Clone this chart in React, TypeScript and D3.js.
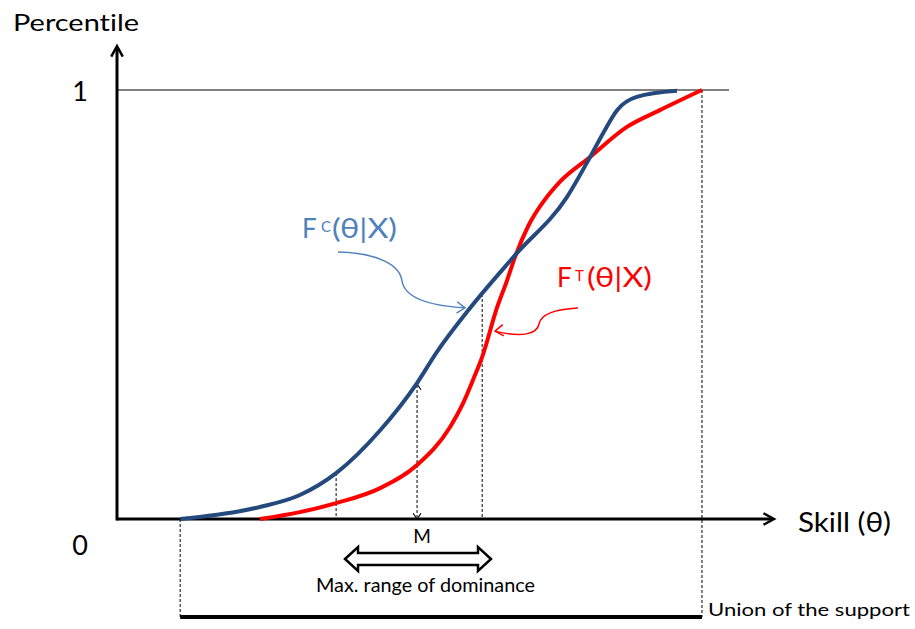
import React from "react";
import * as d3 from "d3";

// skill (0-100 along the axis) and percentile (0-1)
const controlSkill = [9.6, 21.7, 27.8, 33.3, 40.0, 45.6, 48.6, 53.2, 60.5, 68.4, 71.9, 73.9, 76.0, 79.0, 85.1];
const controlPct = [0, 0.028, 0.056, 0.107, 0.207, 0.317, 0.389, 0.483, 0.615, 0.751, 0.844, 0.9, 0.953, 0.984, 0.998];

const treatSkill = [21.7, 27.8, 33.3, 40.0, 45.6, 50.6, 52.6, 54.1, 55.5, 57.8, 59.3, 60.5, 62.5, 65.0, 67.3, 71.9, 77.5, 82.5, 88.9];
const treatPct = [0, 0.016, 0.037, 0.072, 0.126, 0.214, 0.27, 0.324, 0.378, 0.495, 0.557, 0.611, 0.683, 0.744, 0.786, 0.844, 0.914, 0.953, 1];

const yTicks = ["0", "1"];
const supportLo = 9.6;
const supportHi = 88.9;
const lowCut = 33.3; // left end of dominance range
const highCut = 55.5; // right end
const mSkill = 45.6;

const W = 915;
const H = 629;
const FONT = "Lato, 'Open Sans', sans-serif";

const App = () => {
  const x = d3.scaleLinear().domain([0, 100]).range([117, 775]);
  const y = d3.scaleLinear().domain([0, 1]).range([519, 90]);

  const line = d3
    .line<[number, number]>()
    .x((d) => x(d[0]))
    .y((d) => y(d[1]))
    .curve(d3.curveMonotoneX);

  const blue = controlSkill.map((s, i) => [s, controlPct[i]] as [number, number]);
  const red = treatSkill.map((s, i) => [s, treatPct[i]] as [number, number]);

  const interp = (xs: number[], ys: number[], v: number) => {
    const i = Math.max(1, d3.bisectLeft(xs, v));
    const t = (v - xs[i - 1]) / (xs[i] - xs[i - 1]);
    return ys[i - 1] + t * (ys[i] - ys[i - 1]);
  };

  const x0 = x(0);
  const yBase = y(0);
  const unionY = 617;

  const mX = x(mSkill);
  const mTop = y(interp(controlSkill, controlPct, mSkill));

  const blueTip: [number, number] = [x(53.2) - 2, y(interp(controlSkill, controlPct, 53.2)) - 4];
  const redTip: [number, number] = [x(57.0) + 3, y(interp(treatSkill, treatPct, 57.0)) + 7];

  const chevron = (tx: number, ty: number, ang: number, len = 9, spread = 0.55) => {
    const a1 = ang + Math.PI - spread;
    const a2 = ang + Math.PI + spread;
    return `M${tx + len * Math.cos(a1)},${ty + len * Math.sin(a1)}L${tx},${ty}L${tx + len * Math.cos(a2)},${ty + len * Math.sin(a2)}`;
  };

  // block double arrow for the dominance range
  const bx0 = 345, bx1 = 491, bcy = 559, headW = 13, shaft = 6, head = 12;
  const block = `M${bx0},${bcy}L${bx0 + headW},${bcy - head}L${bx0 + headW},${bcy - shaft}L${bx1 - headW},${bcy - shaft}L${bx1 - headW},${bcy - head}L${bx1},${bcy}L${bx1 - headW},${bcy + head}L${bx1 - headW},${bcy + shaft}L${bx0 + headW},${bcy + shaft}L${bx0 + headW},${bcy + head}Z`;

  const fit = { lengthAdjust: "spacingAndGlyphs" as const };

  return (
    <svg
      width={W}
      height={H}
      style={{ position: "absolute", left: 0, top: 0, background: "#fff", fontVariantLigatures: "none" }}
      fontFamily={FONT}
    >
      {/* top reference line */}
      <line x1={x0} x2={729} y1={y(1)} y2={y(1)} stroke="#808080" strokeWidth={2} />

      {/* dashed guides */}
      <g stroke="#000" strokeWidth={1} strokeDasharray="3,2" fill="none">
        <line x1={x(supportLo)} x2={x(supportLo)} y1={yBase} y2={unionY} />
        <line x1={x(supportHi)} x2={x(supportHi)} y1={y(1)} y2={unionY} />
        <line x1={x(lowCut)} x2={x(lowCut)} y1={y(interp(controlSkill, controlPct, lowCut))} y2={yBase} />
        <line x1={x(highCut)} x2={x(highCut)} y1={y(interp(controlSkill, controlPct, highCut))} y2={yBase} />
        <line x1={mX} x2={mX} y1={mTop + 2} y2={yBase - 2} />
      </g>
      <g stroke="#000" strokeWidth={1.2} fill="none">
        <path d={chevron(mX, mTop + 1, -Math.PI / 2, 7, 0.6)} />
        <path d={chevron(mX, yBase, Math.PI / 2, 7, 0.6)} />
      </g>

      {/* axes */}
      <g stroke="#000" strokeWidth={3} fill="none">
        <line x1={x0} x2={x0} y1={yBase + 1.5} y2={47} />
        <path d={chevron(x0, 46, -Math.PI / 2, 12, 0.5)} strokeWidth={2.5} />
        <line x1={x0} x2={773} y1={yBase} y2={yBase} />
        <path d={chevron(774, yBase, 0, 12, 0.5)} strokeWidth={2.5} />
      </g>

      {/* curves */}
      <path d={line(red) ?? ""} fill="none" stroke="#FF0000" strokeWidth={4} />
      <path d={line(blue) ?? ""} fill="none" stroke="#24497D" strokeWidth={4} />

      {/* annotation arrows */}
      <path
        d={`M338,252C378,253 400,265 402,281C405,299 432,306 ${blueTip[0]},${blueTip[1]}`}
        fill="none"
        stroke="#4F81BD"
        strokeWidth={1.5}
      />
      <path d={chevron(blueTip[0], blueTip[1], 0.05, 10, 0.6)} fill="none" stroke="#4F81BD" strokeWidth={1.5} />
      <path
        d={`M578,308C560,309 541,313 539,324C537,334 522,338 ${redTip[0]},${redTip[1]}`}
        fill="none"
        stroke="#FF0000"
        strokeWidth={1.5}
      />
      <path d={chevron(redTip[0], redTip[1], Math.PI - 0.1, 10, 0.6)} fill="none" stroke="#FF0000" strokeWidth={1.5} />

      {/* union of the support */}
      <line x1={x(supportLo)} x2={x(supportHi)} y1={unionY} y2={unionY} stroke="#000" strokeWidth={4} />

      {/* dominance range */}
      <path d={block} fill="#fff" stroke="#000" strokeWidth={2.5} strokeLinejoin="miter" />

      {/* texts */}
      <text x={13} y={31} fontSize={24} fill="#000" textLength={126} {...fit}>Percentile</text>
      {yTicks.map((t, i) => (
        <text key={t} x={88} y={i === 0 ? 555 : 100.5} fontSize={27} textAnchor="end" fill="#000">
          {t}
        </text>
      ))}
      <text x={798} y={532} fontSize={27} fill="#000" textLength={93} {...fit}>Skill (θ)</text>
      <text x={422} y={543} fontSize={19} textAnchor="middle" fill="#000">M</text>
      <text x={316} y={592} fontSize={19} fill="#000" textLength={219} {...fit}>Max. range of dominance</text>
      <text x={708} y={616} fontSize={18} fill="#000" textLength={202} {...fit}>Union of the support</text>

      <g fill="#4F81BD">
        <text x={302} y={238} fontSize={26}>F</text>
        <text x={321} y={232} fontSize={15}>C</text>
        <text x={332} y={238} fontSize={26} textLength={65} {...fit}>(θ|X)</text>
      </g>
      <g fill="#FF0000">
        <text x={557} y={287} fontSize={26}>F</text>
        <text x={575} y={281} fontSize={15}>T</text>
        <text x={587} y={287} fontSize={26} textLength={65} {...fit}>(θ|X)</text>
      </g>
    </svg>
  );
};

export default App;
